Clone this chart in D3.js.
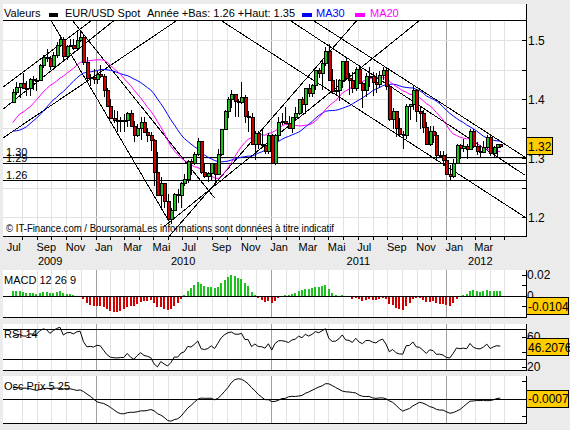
<!DOCTYPE html>
<html>
<head>
<meta charset="utf-8">
<script src="https://cdn.jsdelivr.net/npm/d3@7"></script>
<style>
  body { margin: 0; background: #ebebeb; }
  svg { display: block; font-family: "Liberation Sans", Arial, sans-serif; }
</style>
</head>
<body>
<div id="chart"></div>
<script>
// weekly EUR/USD candles, one per week starting on this Monday
const firstWeek = "2009-07-13";

const open = [
  1.3945,1.4115,1.4200,1.4260,1.4185,1.4185,1.4335,1.4320,1.4315,1.4565,1.4705,1.4680,1.4555,1.4740,1.4910,1.5010,1.4725,1.4885,1.4910,1.4860,1.4990,1.5035,1.4615,1.4340,1.4360,
  1.4325,1.4410,1.4380,1.4140,1.3865,1.3675,1.3635,1.3615,1.3630,1.3630,1.3760,1.3530,1.3380,1.3505,1.3605,1.3440,1.3380,1.3300,1.2755,1.2360,1.2570,1.2270,1.1965,1.2115,1.2380,1.2370,
  1.2570,1.2640,1.2940,1.2900,1.3060,1.3275,1.2750,1.2680,1.2740,1.2900,1.2715,1.3055,1.3490,1.3790,1.4000,1.4070,1.3960,1.3945,1.4030,1.3700,1.3690,1.3230,1.3415,1.3225,1.3220,1.3110,
  1.3385,1.2910,1.3380,1.3610,1.3625,1.3580,1.3500,1.3690,1.3750,1.3985,1.3905,1.4180,1.4090,1.4235,1.4480,1.4430,1.4610,1.4810,1.4310,1.4120,1.4140,1.4310,1.4640,1.4340,1.4310,1.4180,
  1.4500,1.4260,1.4150,1.4375,1.4385,1.4285,1.4240,1.4395,1.4490,1.4210,1.3650,1.3790,1.3500,1.3390,1.3375,1.3880,1.3900,1.4145,1.3790,1.3750,1.3520,1.3230,1.3450,1.3385,1.3040,1.3050,
  1.2960,1.2720,1.2680,1.2910,1.3215,1.3155,1.3190,1.3150,1.3450,1.3200,1.3115,1.3090,1.3185,1.3345,1.3070,1.3170,1.3225
];
const high = [
  1.4175,1.4280,1.4270,1.4445,1.4300,1.4355,1.4390,1.4355,1.4600,1.4740,1.4845,1.4735,1.4790,1.4970,1.5065,1.5045,1.4915,1.5010,1.5010,1.5145,1.5145,1.5090,1.4720,1.4425,1.4510,
  1.4480,1.4580,1.4420,1.4180,1.4000,1.3820,1.3790,1.3690,1.3740,1.3785,1.3820,1.3620,1.3580,1.3690,1.3690,1.3505,1.3445,1.3330,1.3095,1.2675,1.2570,1.2390,1.2150,1.2410,1.2470,1.2590,
  1.2725,1.2970,1.2990,1.3110,1.3335,1.3285,1.2900,1.2760,1.2915,1.2900,1.3160,1.3500,1.3820,1.4030,1.4160,1.4075,1.4000,1.4280,1.4070,1.3790,1.3770,1.3455,1.3450,1.3500,1.3225,1.3430,
  1.3400,1.3400,1.3690,1.3760,1.3860,1.3720,1.3700,1.3860,1.4000,1.4040,1.4185,1.4250,1.4250,1.4485,1.4520,1.4650,1.4880,1.4940,1.4510,1.4345,1.4345,1.4640,1.4700,1.4445,1.4450,1.4540,
  1.4580,1.4280,1.4440,1.4535,1.4450,1.4445,1.4475,1.4545,1.4545,1.4210,1.3850,1.3795,1.3680,1.3455,1.3915,1.3905,1.4245,1.4175,1.3875,1.3810,1.3610,1.3550,1.3550,1.3435,1.3120,1.3120,
  1.3075,1.2880,1.2985,1.3235,1.3235,1.3320,1.3240,1.3485,1.3485,1.3265,1.3205,1.3295,1.3385,1.3385,1.3210,1.3245,1.3240
];
const low = [
  1.3925,1.4060,1.4010,1.4190,1.4045,1.4045,1.4145,1.4135,1.4300,1.4525,1.4625,1.4485,1.4550,1.4700,1.4875,1.4630,1.4660,1.4880,1.4830,1.4810,1.4970,1.4580,1.4320,1.4220,1.4260,
  1.4260,1.4360,1.4030,1.3860,1.3660,1.3585,1.3440,1.3435,1.3445,1.3530,1.3530,1.3265,1.3360,1.3305,1.3435,1.3275,1.3115,1.2525,1.2355,1.2145,1.2145,1.1960,1.1875,1.2110,1.2235,1.2150,
  1.2520,1.2580,1.2710,1.2880,1.3040,1.2730,1.2665,1.2585,1.2635,1.2590,1.2715,1.3035,1.3480,1.3675,1.3850,1.3700,1.3690,1.3910,1.3595,1.3445,1.3220,1.2970,1.3155,1.3170,1.3060,1.3075,
  1.2905,1.2875,1.3280,1.3555,1.3570,1.3495,1.3430,1.3635,1.3735,1.3755,1.3750,1.4040,1.4035,1.4155,1.4355,1.4150,1.4555,1.4310,1.4080,1.4050,1.3970,1.4185,1.4350,1.4070,1.4100,1.4130,
  1.4255,1.3840,1.4040,1.4210,1.4055,1.4095,1.4180,1.4330,1.4150,1.3630,1.3500,1.3360,1.3360,1.3145,1.3325,1.3650,1.3820,1.3610,1.3485,1.3420,1.3215,1.3210,1.3260,1.2945,1.2995,1.2860,
  1.2705,1.2625,1.2665,1.2905,1.2975,1.3105,1.2975,1.3145,1.3175,1.3050,1.3005,1.3085,1.3150,1.3035,1.3000,1.3000,1.3165
];
const close = [
  1.4115,1.4200,1.4260,1.4185,1.4185,1.4335,1.4320,1.4315,1.4565,1.4705,1.4680,1.4555,1.4740,1.4910,1.5010,1.4725,1.4885,1.4910,1.4860,1.4990,1.5035,1.4615,1.4340,1.4360,1.4325,
  1.4410,1.4380,1.4140,1.3865,1.3675,1.3635,1.3615,1.3630,1.3630,1.3760,1.3530,1.3380,1.3505,1.3605,1.3440,1.3380,1.3300,1.2755,1.2360,1.2570,1.2270,1.1965,1.2115,1.2380,1.2370,1.2570,
  1.2640,1.2940,1.2900,1.3060,1.3275,1.2750,1.2680,1.2740,1.2900,1.2715,1.3055,1.3490,1.3790,1.4000,1.4070,1.3960,1.3945,1.4030,1.3700,1.3690,1.3230,1.3415,1.3225,1.3220,1.3110,1.3385,
  1.2910,1.3380,1.3610,1.3625,1.3580,1.3500,1.3690,1.3750,1.3985,1.3905,1.4180,1.4090,1.4235,1.4480,1.4430,1.4610,1.4810,1.4310,1.4120,1.4140,1.4310,1.4640,1.4340,1.4310,1.4180,1.4500,
  1.4260,1.4150,1.4375,1.4385,1.4285,1.4240,1.4395,1.4490,1.4210,1.3650,1.3790,1.3500,1.3390,1.3375,1.3880,1.3900,1.4145,1.3790,1.3750,1.3520,1.3230,1.3450,1.3385,1.3040,1.3050,1.2960,
  1.2720,1.2680,1.2910,1.3215,1.3155,1.3190,1.3150,1.3450,1.3200,1.3115,1.3090,1.3185,1.3345,1.3070,1.3170,1.3225,1.3200
];
// weekly closes before the visible window (Oct 2008 - Jul 2009), used to start the indicators
const warmClose = [
  1.3430,1.3420,1.2690,1.2730,1.2720,1.2620,1.2580,1.2690,1.2720,1.3330,1.3930,1.4070,1.3920,
  1.3430,1.3250,1.2880,1.2800,1.2940,1.2860,1.2830,1.2670,1.2660,1.2920,1.3590,1.3280,1.3480,
  1.3190,1.3030,1.3250,1.3280,1.3640,1.3510,1.3990,1.4150,1.3970,1.4040,1.3960,1.4040,1.4000,1.3945
];

// support levels and trend lines [date, price, date, price]
const levels = [1.302, 1.291, 1.2627];
const trendLines = [
  ["2009-06-23", 1.4203, "2009-12-25", 1.5339],
  ["2009-06-23", 1.3831, "2010-02-10", 1.5339],
  ["2009-06-16", 1.3305, "2010-06-21", 1.5339],
  ["2009-09-30", 1.5339, "2010-06-04", 1.1915],
  ["2009-11-13", 1.5339, "2010-09-06", 1.2322],
  ["2010-06-04", 1.1678, "2011-06-30", 1.5339],
  ["2010-05-25", 1.1847, "2011-11-08", 1.5339],
  ["2010-09-18", 1.5339, "2012-06-13", 1.2000],
  ["2011-02-09", 1.5339, "2012-06-13", 1.2712],
  ["2011-03-29", 1.5339, "2012-06-13", 1.3017]
];

const lastPrice = "1.32";
const lastMacd = "-0.0104";
const lastRsi = "46.2076";
const lastOsc = "-0.0007";
const yearLow = "1.26", yearHigh = "1.35";
const monthsFr = ["Jan","Fév","Mar","Avr","Mai","Jun","Jul","Aoû","Sep","Oct","Nov","Déc"];

// ---- computed series ----
const parse = d3.timeParse("%Y-%m-%d");
const weeks = d3.timeMonday.range(parse(firstWeek), d3.timeDay.offset(parse(firstWeek), 7 * close.length));
const candles = weeks.map((d, i) => ({ date: d, o: open[i], h: high[i], l: low[i], c: close[i] }));

const allClose = warmClose.concat(close);
const off = warmClose.length;
const sma = n => close.map((_, i) => d3.mean(allClose.slice(i + off - n + 1, i + off + 1)));
const ema = (arr, n) => { const k = 2 / (n + 1); let e = arr[0]; return arr.map(v => (e = e + k * (v - e))); };
const ema12 = ema(allClose, 12), ema26 = ema(allClose, 26);
const macdLine = allClose.map((v, i) => ema12[i] - ema26[i]);
const sig = ema(macdLine, 9);
const hist = macdLine.map((v, i) => v - sig[i]).slice(off);
const rsiAll = [];
let ag = 0, al = 0;
allClose.forEach((v, i) => {
  if (i === 0) { rsiAll.push(50); return; }
  const ch = v - allClose[i - 1];
  const gn = Math.max(ch, 0), ls = Math.max(-ch, 0);
  if (i <= 14) { ag += gn / 14; al += ls / 14; }
  else { ag = (ag * 13 + gn) / 14; al = (al * 13 + ls) / 14; }
  rsiAll.push(100 - 100 / (1 + ag / al));
});
const rsi = rsiAll.slice(off);
const ma20 = sma(20), ma30 = sma(30);
const ma5 = sma(5), ma25 = sma(25);
const osc = ma5.map((v, i) => v - ma25[i]);

// ---- layout ----
const W = 570, H = 430;
const left = 3, right = 526;
const x = d3.scaleTime().domain([new Date(2010, 0, 1), new Date(2012, 0, 1)]).range([95.5, 446]);
const xSpan = [new Date(2009, 5, 26), new Date(2012, 4, 23)];
const main = { top: 20, bottom: 236 };
const pMacd = { top: 270, bottom: 317 };
const pRsi = { top: 324, bottom: 370 };
const pOsc = { top: 376, bottom: 423 };
const y = d3.scaleLinear().domain([1.2, 1.5]).range([217, 40]);
const yMacd = d3.scaleLinear().domain([0, 0.02]).range([295.5, 274.5]);
const yRsi = d3.scaleLinear().domain([20, 60]).range([366.7, 336.7]);
const yOsc = d3.scaleLinear().domain([0, 0.09]).range([398.5, 381]);

const svg = d3.select("#chart").append("svg").attr("width", W).attr("height", H);
const defs = svg.append("defs");
function clip(id, p) {
  defs.append("clipPath").attr("id", id).append("rect")
    .attr("x", left).attr("y", p.top).attr("width", right - left).attr("height", p.bottom - p.top);
}
clip("cMain", main); clip("cMacd", pMacd); clip("cRsi", pRsi); clip("cOsc", pOsc);

// white panel areas
svg.append("rect").attr("x", left).attr("y", 4).attr("width", right - left).attr("height", main.bottom - 4).attr("fill", "#fff");
[pMacd, pRsi, pOsc].forEach(p => {
  svg.append("rect").attr("x", left).attr("y", p.top).attr("width", right - left).attr("height", p.bottom - p.top)
    .attr("fill", "#fff");
});

const months = d3.timeMonth.range(new Date(2009, 6, 1), new Date(2012, 5, 1));
function vGrid(p) {
  svg.append("g").selectAll("line")
    .data(months.filter(m => x(m) > 12 && x(m) < right))
    .join("line")
      .attr("x1", m => Math.round(x(m)) + 0.5).attr("x2", m => Math.round(x(m)) + 0.5)
      .attr("y1", p.top).attr("y2", p.bottom)
      .attr("stroke", m => m.getMonth() === 0 ? "#a0a0a0" : "#e2e2e2");
}
[main, pMacd, pRsi, pOsc].forEach(vGrid);

// horizontal grid in price panel
svg.append("g").selectAll("line")
  .data(d3.range(1.2, 1.5001, 0.05))
  .join("line")
    .attr("x1", left).attr("x2", right)
    .attr("y1", d => Math.round(y(d)) + 0.5).attr("y2", d => Math.round(y(d)) + 0.5)
    .attr("stroke", "#e2e2e2");

// ---- legend ----
const leg = svg.append("g").style("font-size", "11px");
leg.append("text").attr("x", 4).attr("y", 17).text("Valeurs");
leg.append("rect").attr("x", 49).attr("y", 13).attr("width", 9).attr("height", 4).attr("fill", "#000");
leg.append("text").attr("x", 65).attr("y", 17).text("EUR/USD Spot");
leg.append("text").attr("x", 147).attr("y", 17).text(`Année +Bas: ${yearLow} +Haut: ${yearHigh}`);
leg.append("rect").attr("x", 302).attr("y", 13).attr("width", 10).attr("height", 4).attr("fill", "#0000ff");
leg.append("text").attr("x", 316).attr("y", 17).attr("fill", "#0000ff").text("MA30");
leg.append("rect").attr("x", 355).attr("y", 13).attr("width", 10).attr("height", 4).attr("fill", "#ff00ff");
leg.append("text").attr("x", 370).attr("y", 17).attr("fill", "#ff00ff").text("MA20");

// ---- main panel marks ----
const gm = svg.append("g").attr("clip-path", "url(#cMain)");

// support levels
gm.append("g").selectAll("line").data(levels).join("line")
  .attr("x1", left).attr("x2", right)
  .attr("y1", d => Math.round(y(d)) + 0.5).attr("y2", d => Math.round(y(d)) + 0.5)
  .attr("stroke", "#000");
gm.append("g").style("font-size", "11px").selectAll("text").data(levels).join("text")
  .attr("x", 6).attr("y", d => Math.round(y(d)) - 1)
  .text(d => d3.format(".2f")(d));

// trend lines
gm.append("g").selectAll("line").data(trendLines).join("line")
  .attr("x1", d => x(parse(d[0]))).attr("y1", d => y(d[1]))
  .attr("x2", d => x(parse(d[2]))).attr("y2", d => y(d[3]))
  .attr("stroke", "#000").attr("stroke-width", 1).attr("shape-rendering", "crispEdges");

// watermark
svg.append("text").attr("x", 6).attr("y", 232).style("font-size", "10px")
  .attr("textLength", 328).attr("lengthAdjust", "spacingAndGlyphs")
  .text("© IT-Finance.com / BoursoramaLes informations sont données à titre indicatif");

// moving averages
const maLine = arr => d3.line().x((d, i) => x(weeks[i])).y(d => y(d))(arr);
gm.append("path").attr("d", maLine(ma30)).attr("fill", "none").attr("stroke", "#0000ff");
gm.append("path").attr("d", maLine(ma20)).attr("fill", "none").attr("stroke", "#ff00ff");

// candles
const cg = gm.append("g").attr("shape-rendering", "crispEdges");
cg.selectAll("line").data(candles).join("line")
  .attr("x1", d => Math.round(x(d.date)) + 0.5).attr("x2", d => Math.round(x(d.date)) + 0.5)
  .attr("y1", d => y(d.h)).attr("y2", d => y(d.l))
  .attr("stroke", "#000");
cg.selectAll("rect").data(candles).join("rect")
  .attr("x", d => Math.round(x(d.date)) - 1)
  .attr("width", 3)
  .attr("y", d => y(Math.max(d.o, d.c)))
  .attr("height", d => Math.max(1, Math.abs(y(d.o) - y(d.c))))
  .attr("fill", d => d.c >= d.o ? "#1ec21e" : "#d00000")
  .attr("stroke", "#000");

// frame lines
svg.append("line").attr("x1", left).attr("x2", right).attr("y1", main.top + 0.5).attr("y2", main.top + 0.5).attr("stroke", "#000");
svg.append("line").attr("x1", left).attr("x2", right).attr("y1", main.bottom + 0.5).attr("y2", main.bottom + 0.5).attr("stroke", "#000");
svg.append("line").attr("x1", right + 0.5).attr("x2", right + 0.5).attr("y1", 4).attr("y2", main.bottom + 1).attr("stroke", "#000");

// price axis
const axP = svg.append("g").style("font-size", "12px");
axP.selectAll("line").data(d3.range(1.2, 1.5001, 0.05)).join("line")
  .attr("x1", right - 4).attr("x2", right)
  .attr("y1", d => Math.round(y(d)) + 0.5).attr("y2", d => Math.round(y(d)) + 0.5)
  .attr("stroke", "#000");
axP.selectAll("text").data([1.2, 1.3, 1.4, 1.5]).join("text")
  .attr("x", right + 2).attr("y", d => y(d) + 4.5)
  .text(d => d3.format(".1f")(d));

// time axis
const axT = svg.append("g").style("font-size", "11px");
axT.selectAll("line").data(months.filter(m => x(m) > 12 && x(m) < right)).join("line")
  .attr("x1", m => Math.round(x(m)) + 0.5).attr("x2", m => Math.round(x(m)) + 0.5)
  .attr("y1", main.bottom).attr("y2", main.bottom + 4)
  .attr("stroke", "#000");
axT.selectAll("text.m").data(months.filter(m => m.getMonth() % 2 === 0 && x(m) < 500)).join("text")
  .attr("class", "m")
  .attr("x", m => x(m) - 0.5).attr("y", 251)
  .text(m => monthsFr[m.getMonth()]);
const years = [2009, 2010, 2011, 2012];
axT.selectAll("text.y").data(years).join("text")
  .attr("class", "y")
  .attr("text-anchor", "middle")
  .attr("x", yr => {
    const a = Math.max(x(new Date(yr, 0, 1)), x(xSpan[0]));
    const b = Math.min(x(new Date(yr + 1, 0, 1)), x(xSpan[1]));
    return (a + b) / 2;
  })
  .attr("y", 265)
  .text(yr => yr);

// value box helper
function valueBox(yc, label, w) {
  const g = svg.append("g");
  g.append("rect").attr("x", right + 0.5).attr("y", Math.round(yc) - 8.5).attr("width", w).attr("height", 17)
    .attr("fill", "#ffcc00").attr("stroke", "#000").attr("shape-rendering", "crispEdges");
  g.append("text").attr("x", right + 2).attr("y", yc + 4.5).style("font-size", "12px").text(label);
}
valueBox(y(+lastPrice), lastPrice, 26);

// ---- indicator panels ----
function panelFrame(p, title, ticks, labels, yS) {
  svg.append("line").attr("x1", left).attr("x2", right).attr("y1", p.bottom + 0.5).attr("y2", p.bottom + 0.5).attr("stroke", "#000");
  svg.append("line").attr("x1", right + 0.5).attr("x2", right + 0.5).attr("y1", p.top).attr("y2", p.bottom + 1).attr("stroke", "#000");
  svg.append("text").attr("x", 4).attr("y", p.top + 14).style("font-size", "11px").text(title);
  const a = svg.append("g").style("font-size", "12px");
  a.selectAll("line").data(ticks).join("line")
    .attr("x1", right - 4).attr("x2", right)
    .attr("y1", d => Math.round(yS(d)) + 0.5).attr("y2", d => Math.round(yS(d)) + 0.5)
    .attr("stroke", "#000");
  a.selectAll("text").data(labels).join("text")
    .attr("x", right + 1).attr("y", d => yS(d[0]) + 4.5).text(d => d[1]);
}

// MACD
const gMacd = svg.append("g").attr("clip-path", "url(#cMacd)").attr("shape-rendering", "crispEdges");
gMacd.selectAll("rect").data(hist).join("rect")
  .attr("x", (d, i) => Math.round(x(weeks[i])) - 1).attr("width", 2)
  .attr("y", d => Math.min(yMacd(d), yMacd(0))).attr("height", d => Math.abs(yMacd(d) - yMacd(0)))
  .attr("fill", d => d >= 0 ? "#1ec21e" : "#d00000");
svg.append("line").attr("x1", left).attr("x2", right).attr("y1", Math.round(yMacd(0)) + 0.5).attr("y2", Math.round(yMacd(0)) + 0.5).attr("stroke", "#000");
panelFrame(pMacd, "MACD 12 26 9", [0.02, 0.01, 0, -0.01], [[0.02, "0.02"], [0, "0"]], yMacd);
valueBox(yMacd(+lastMacd), lastMacd, 42);

// RSI
const gRsi = svg.append("g").attr("clip-path", "url(#cRsi)");
[70, 30].forEach(v => gRsi.append("line").attr("x1", left).attr("x2", right)
  .attr("y1", Math.round(yRsi(v)) + 0.5).attr("y2", Math.round(yRsi(v)) + 0.5).attr("stroke", "#000"));
panelFrame(pRsi, "RSI 14", [60, 40, 20], [[60, "60"], [20, "20"]], yRsi);
gRsi.append("path").attr("d", d3.line().x((d, i) => x(weeks[i])).y(d => yRsi(d))(rsi))
  .attr("fill", "none").attr("stroke", "#000");
valueBox(yRsi(+lastRsi), lastRsi, 42);

// Price oscillator
const gOsc = svg.append("g").attr("clip-path", "url(#cOsc)");
gOsc.append("line").attr("x1", left).attr("x2", right)
  .attr("y1", Math.round(yOsc(0)) + 0.5).attr("y2", Math.round(yOsc(0)) + 0.5).attr("stroke", "#000");
panelFrame(pOsc, "Osc Prix 5 25", [0.09, -0.09], [], yOsc);
gOsc.append("path").attr("d", d3.line().x((d, i) => x(weeks[i])).y(d => yOsc(d))(osc))
  .attr("fill", "none").attr("stroke", "#000");
valueBox(yOsc(+lastOsc), lastOsc, 42);
</script>
</body>
</html>
